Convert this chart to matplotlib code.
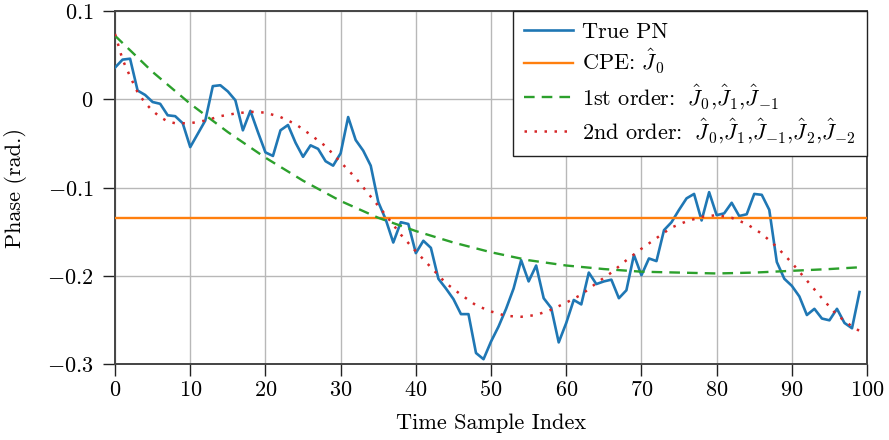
import numpy as np
import matplotlib
matplotlib.use("Agg")
import matplotlib.pyplot as plt

plt.rcParams['font.family'] = 'serif'
plt.rcParams['font.serif'] = ['cmr10']
plt.rcParams['mathtext.fontset'] = 'cm'
plt.rcParams['axes.formatter.use_mathtext'] = True
plt.rcParams['font.size'] = 16

# true phase noise, one value per sample
true_pn = [0.036, 0.045, 0.046, 0.010, 0.005, -0.003, -0.005, -0.018, -0.019, -0.027,
           -0.054, -0.039, -0.024, 0.015, 0.016, 0.009, -0.001, -0.035, -0.013, -0.037,
           -0.060, -0.064, -0.035, -0.029, -0.049, -0.065, -0.052, -0.056, -0.070, -0.075,
           -0.061, -0.020, -0.046, -0.058, -0.075, -0.116, -0.136, -0.162, -0.139, -0.141,
           -0.174, -0.160, -0.168, -0.203, -0.214, -0.226, -0.243, -0.243, -0.287, -0.294,
           -0.274, -0.257, -0.237, -0.214, -0.182, -0.206, -0.188, -0.225, -0.236, -0.275,
           -0.253, -0.227, -0.232, -0.196, -0.209, -0.206, -0.204, -0.225, -0.216, -0.176,
           -0.199, -0.180, -0.183, -0.148, -0.139, -0.125, -0.112, -0.107, -0.137, -0.105,
           -0.131, -0.129, -0.117, -0.132, -0.130, -0.107, -0.108, -0.125, -0.184, -0.203,
           -0.211, -0.223, -0.244, -0.237, -0.248, -0.250, -0.237, -0.253, -0.259, -0.218]

cpe_value = -0.134

first_n = [0, 5, 10, 15, 20, 25, 30, 35, 40, 45, 50, 55, 60, 65, 70, 75, 80, 85, 90, 95, 99]
first_order = [0.072, 0.031, -0.005, -0.037, -0.066, -0.092, -0.115, -0.134, -0.149, -0.162,
               -0.173, -0.182, -0.188, -0.192, -0.195, -0.196, -0.197, -0.196, -0.194, -0.192, -0.190]

second_n = [0, 1, 2, 3, 4, 5, 6, 7, 8, 10, 12, 14, 16, 18, 20, 22, 24, 26, 28, 30, 32, 34,
            36, 38, 40, 42, 44, 46, 48, 50, 52, 54, 56, 58, 60, 62, 64, 66, 68, 70, 72, 74,
            76, 78, 80, 82, 84, 86, 88, 90, 92, 94, 96, 98, 99]
second_order = [0.074, 0.045, 0.026, 0.008, -0.004, -0.013, -0.020, -0.025, -0.027, -0.027,
                -0.024, -0.019, -0.016, -0.014, -0.015, -0.020, -0.028, -0.040, -0.053, -0.071,
                -0.089, -0.110, -0.131, -0.153, -0.172, -0.190, -0.208, -0.221, -0.233, -0.240,
                -0.245, -0.246, -0.244, -0.238, -0.230, -0.221, -0.208, -0.196, -0.182, -0.169,
                -0.157, -0.145, -0.138, -0.133, -0.131, -0.134, -0.141, -0.152, -0.167, -0.185,
                -0.205, -0.225, -0.244, -0.257, -0.262]

xticks = [0, 10, 20, 30, 40, 50, 60, 70, 80, 90, 100]
yticks = [-0.3, -0.2, -0.1, 0, 0.1]
ytick_labels = [r'$-0.3$', r'$-0.2$', r'$-0.1$', r'$0$', r'$0.1$']

fig = plt.figure(figsize=(8.89, 4.40), dpi=100)
ax = fig.add_axes([0.1294, 0.1716, 0.8459, 0.8034])

n = np.arange(len(true_pn))
ax.plot(n, true_pn, color='#1f77b4', lw=1.9, label='True PN', zorder=3)
ax.axhline(cpe_value, color='#ff7f0e', lw=1.7, label=r'CPE: $\hat{J}_0$', zorder=3)
ax.plot(first_n, first_order, color='#2ca02c', lw=1.7, ls=(0, (4.5, 3)),
        label=r'1st order: $\;\hat{J}_0$,$\hat{J}_1$,$\hat{J}_{-1}$', zorder=3)
ax.plot(second_n, second_order, color='#d62728', lw=1.8, ls=(0, (1, 3.0)),
        label=r'2nd order: $\;\hat{J}_0$,$\hat{J}_1$,$\hat{J}_{-1}$,$\hat{J}_2$,$\hat{J}_{-2}$',
        zorder=3)

ax.set_xlim(0, 100)
ax.set_ylim(-0.3, 0.1)
ax.set_xticks(xticks)
ax.set_xticklabels([r'$%d$' % t for t in xticks])
ax.set_yticks(yticks)
ax.set_yticklabels(ytick_labels)
ax.grid(True, color='#b8b8b8', lw=1.0)
ax.set_axisbelow(True)
ax.tick_params(direction='out', length=8.5, width=1, color='#222222', labelsize=16)
ax.tick_params(axis='x', pad=3)
ax.tick_params(axis='y', pad=7)
for s in ax.spines.values():
    s.set_color('#444444')
    s.set_linewidth(1.4)

ax.set_xlabel('Time Sample Index', fontsize=16)
ax.set_ylabel('Phase (rad.)', fontsize=16)
ax.xaxis.set_label_coords(0.5, -0.138)
ax.yaxis.set_label_coords(-0.117, 0.5)

leg = ax.legend(loc='upper right', borderaxespad=0, fancybox=False, framealpha=1,
                edgecolor='#222222', handlelength=2.2, handletextpad=0.4, fontsize=16,
                labelspacing=0.25, borderpad=0.5)
leg.get_frame().set_linewidth(1.0)

fig.savefig('out.png', dpi=100)
